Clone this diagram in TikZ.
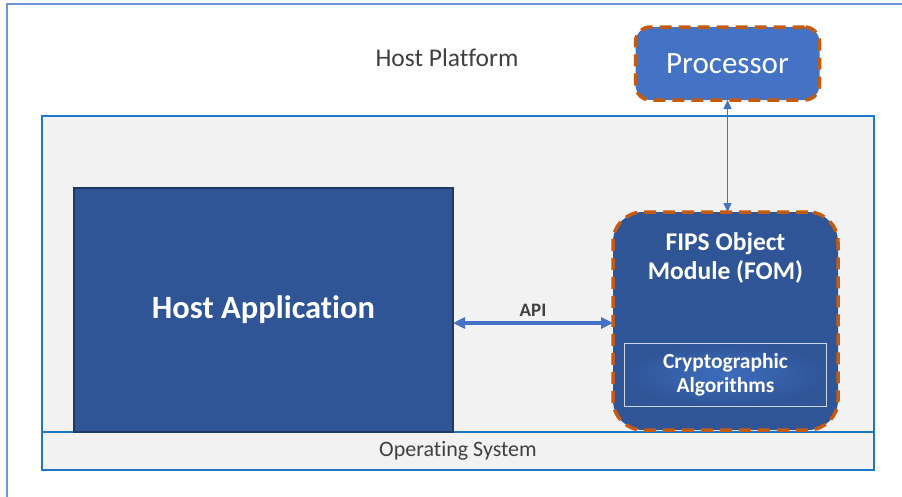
\documentclass[tikz,border=0pt]{standalone}
\usepackage{fontspec}
\setmainfont{Carlito}[Ligatures=CommonOff]
\usetikzlibrary{arrows.meta}
\usetikzlibrary{positioning}
\definecolor{frameblue}{HTML}{6F95D8}
\definecolor{platformblue}{HTML}{1E78C8}
\definecolor{platformgrey}{HTML}{F2F2F2}
\definecolor{appblue}{HTML}{2F5597}
\definecolor{appedge}{HTML}{1F3864}
\definecolor{procblue}{HTML}{4472C4}
\definecolor{dashorange}{HTML}{C55A11}
\definecolor{cryptolight}{HTML}{3D6CBE}
\definecolor{cryptoedge}{HTML}{C9D6EC}
\definecolor{textgrey}{HTML}{404040}
\tikzset {
  % common node settings
  box/.style = {
    draw,
    inner sep = 0pt,
    outer sep = 0pt,
    align = center
  },
  platform/.style = {
    box,
    draw = platformblue,
    fill = platformgrey,
    line width = 1.6pt
  },
  osbar/.style = {
    platform,
    text = textgrey,
    font = \fontsize{22}{26}\selectfont
  },
  app/.style = {
    box,
    draw = appedge,
    fill = appblue,
    line width = 1.2pt,
    text = white,
    font = \bfseries\fontsize{32.5}{38}\selectfont
  },
  % dashed orange outline
  orange dashes/.style = {
    draw = dashorange,
    line width = 3.5pt,
    dash pattern = on 12pt off 7pt
  },
  module/.style = {
    box,
    orange dashes,
    fill = appblue,
    rounded corners = 30pt
  },
  proc/.style = {
    box,
    orange dashes,
    fill = procblue,
    rounded corners = 15pt,
    text = white,
    font = \fontsize{31}{36}\selectfont
  },
  crypto/.style = {
    box,
    draw = cryptoedge,
    line width = 0.8pt,
    inner color = cryptolight,
    outer color = appblue,
    text = white,
    font = \bfseries\fontsize{21.5}{24}\selectfont
  },
  label text/.style = {
    text = white,
    align = center,
    font = \bfseries\fontsize{25.5}{29}\selectfont
  },
  % connectors
  api link/.style = {
    draw = procblue,
    line width = 4pt,
    {Triangle[length=12pt,width=11pt]}-{Triangle[length=12pt,width=11pt]}
  },
  proc link/.style = {
    draw = procblue,
    line width = 1.4pt,
    {Triangle[length=9pt,width=8pt]}-{Triangle[length=9pt,width=8pt]}
  }
}

\begin{document}
\begin{tikzpicture}[x=1pt, y=-1pt]
    \useasboundingbox (0,0) rectangle (902,496);
    \clip (0,0) rectangle (902,496);
    \draw[frameblue, line width=1.2pt] (7,4) rectangle (920,520);

    \node (host-platform) [text=textgrey, font=\fontsize{25.5}{30}\selectfont] at (447,58) {Host Platform};

    \node[platform, minimum width=832pt, minimum height=354pt, anchor=north west] (platform) at (42,116) {};
    \node[osbar, minimum width=832pt, minimum height=38pt, anchor=south west] (os) at (platform.south west) {Operating System};

    \node[app, minimum width=379pt, minimum height=244pt, anchor=south west] (app) at ([xshift=32pt]os.north west) {Host Application};
    \node[module, minimum width=225pt, minimum height=218pt, anchor=south east] (fom) at ([xshift=-36pt, yshift=2pt]os.north east) {};
    \node[label text] (fom-text) at ([yshift=-46pt]fom.north) {FIPS Object\\Module (FOM)};
    \node[crypto, minimum width=202pt, minimum height=63pt, anchor=south] (crypto) at ([yshift=24pt]fom.south) {Cryptographic\\Algorithms};
    \node[proc, minimum width=184pt, minimum height=73pt] (proc) [above=112pt of fom, xshift=2pt] {Processor};

    \draw[api link] ([yshift=-13pt]app.east) -- ([yshift=-13pt]app.east -| fom.west)
      node[midway, above=1pt, text=textgrey, font=\bfseries\fontsize{19}{22}\selectfont] (api) {API};
    \draw[proc link] (proc) -- (proc |- fom.north);
  \end{tikzpicture}
\end{document}
